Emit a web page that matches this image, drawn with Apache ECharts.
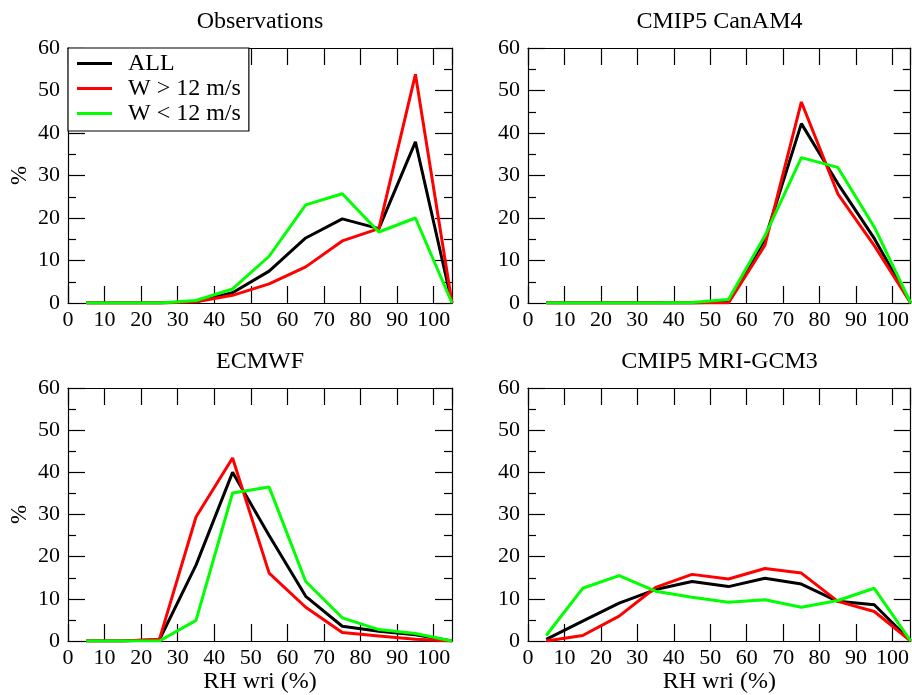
<!DOCTYPE html>
<html>
<head>
<meta charset="utf-8">
<script src="https://cdn.jsdelivr.net/npm/echarts@6/dist/echarts.min.js"></script>
<style>html,body{margin:0;padding:0;background:#fff}#c{width:912px;height:695px}</style>
</head>
<body>
<div id="c"></div>
<script>
const rhBins = [5,15,25,35,45,55,65,75,85,95,105];
const xTickLabels = [0,10,20,30,40,50,60,70,80,90,100];
const yTickLabels = [0,10,20,30,40,50,60];
const seriesNames = ['ALL','W > 12 m/s','W < 12 m/s'];
const panelTitles = ['Observations','CMIP5 CanAM4','ECMWF','CMIP5 MRI-GCM3'];

const obsAll  = [0,0,0,0.3,2.4,7.5,15.3,19.8,17.5,37.9,0];
const obsHigh = [0,0,0,0.3,1.8,4.5,8.5,14.6,17.5,53.8,0];
const obsLow  = [0,0,0,0.6,3.3,11,23.1,25.7,16.7,20,0];

const canAll  = [0,0,0,0,0,0.3,15,42.2,28.1,15.2,0];
const canHigh = [0,0,0,0,0,0,13.6,47.3,25.7,13.5,0];
const canLow  = [0,0,0,0,0.1,0.8,15.8,34.2,31.9,17.9,0];

const ecAll  = [0,0,0.3,18,40,25,10.6,3.5,2.3,1.5,0];
const ecHigh = [0,0,0.4,29.4,43.4,16.1,8,2,1.2,0.4,0];
const ecLow  = [0,0,0,4.9,35.1,36.5,14.1,5.5,2.7,1.8,0];

const mriAll  = [0.4,4.7,9,12.2,14.1,12.9,14.9,13.5,9.4,8.6,0];
const mriHigh = [0,1.3,5.9,12.7,15.8,14.7,17.2,16.1,9.4,7,0];
const mriLow  = [1.3,12.5,15.5,11.8,10.4,9.2,9.8,8,9.6,12.5,0];

const panels = [
  [obsAll, obsHigh, obsLow],
  [canAll, canHigh, canLow],
  [ecAll, ecHigh, ecLow],
  [mriAll, mriHigh, mriLow]
];
const colors = ['#000000','#ff0000','#00ff00'];
const FONT = "'Liberation Serif','DejaVu Serif',serif";

const grids = [
  {left:68, top:48, width:384, height:255},
  {left:528, top:48, width:383, height:255},
  {left:68, top:388, width:384, height:256},
  {left:528, top:388, width:383, height:256}
];

const xMin = 0, xMax = 105, xInt = xTickLabels[1]-xTickLabels[0];
const yMin = yTickLabels[0], yMax = yTickLabels[yTickLabels.length-1], yInt = yTickLabels[1]-yTickLabels[0];

const xAxes = [], yAxes = [], series = [], titles = [];
const lineAx = {show:true, onZero:false, lineStyle:{color:'#000', width:1.2}};
grids.forEach((g, i) => {
  const bottomRow = i >= 2, leftCol = (i % 2) === 0;
  xAxes.push({
    type:'value', gridIndex:i, min:xMin, max:xMax, interval:xInt, position:'bottom',
    axisLine:lineAx,
    axisTick:{show:true, inside:true, length:17, lineStyle:{color:'#000', width:1.2}},
    axisLabel:{show:true, color:'#000', fontFamily:FONT, fontSize:22, margin:6, showMaxLabel:false,
      formatter: v => xTickLabels.indexOf(v) >= 0 ? String(v) : ''},
    splitLine:{show:false},
    name: bottomRow ? 'RH wri (%)' : '', nameLocation:'middle', nameGap:29,
    nameTextStyle:{color:'#000', fontFamily:FONT, fontSize:24}
  });
  xAxes.push({
    type:'value', gridIndex:i, min:xMin, max:xMax, interval:xInt, position:'top',
    axisLine:lineAx,
    axisTick:{show:true, inside:true, length:17, lineStyle:{color:'#000', width:1.2}},
    axisLabel:{show:false}, splitLine:{show:false}
  });
  yAxes.push({
    type:'value', gridIndex:i, min:yMin, max:yMax, interval:yInt, position:'left',
    axisLine:lineAx,
    axisTick:{show:true, inside:true, length:17, lineStyle:{color:'#000', width:1.2}},
    minorTick:{show:true, splitNumber:2, length:8, lineStyle:{color:'#000', width:1.2}},
    axisLabel:{show:true, color:'#000', fontFamily:FONT, fontSize:22, margin:8},
    splitLine:{show:false}, minorSplitLine:{show:false},
    name: leftCol ? '%' : '', nameLocation:'middle', nameGap:37,
    nameTextStyle:{color:'#000', fontFamily:FONT, fontSize:23}
  });
  yAxes.push({
    type:'value', gridIndex:i, min:yMin, max:yMax, interval:yInt, position:'right',
    axisLine:lineAx,
    axisTick:{show:true, inside:true, length:17, lineStyle:{color:'#000', width:1.2}},
    minorTick:{show:true, splitNumber:2, length:8, lineStyle:{color:'#000', width:1.2}},
    axisLabel:{show:false}, splitLine:{show:false}, minorSplitLine:{show:false}
  });
  titles.push({
    text: panelTitles[i], left: g.left + g.width/2, top: bottomRow ? 350 : 10,
    textAlign:'center', padding:0,
    textStyle:{color:'#000', fontFamily:FONT, fontSize:24, fontWeight:'normal'}
  });
  panels[i].forEach((vals, k) => {
    series.push({
      type:'line', name: seriesNames[k], xAxisIndex: i*2, yAxisIndex: i*2,
      data: rhBins.map((x, j) => [x, vals[j]]),
      symbol:'none', showSymbol:false, lineStyle:{color:colors[k], width:3}, itemStyle:{color:colors[k]},
      silent:true, animation:false, z: 2 + k
    });
  });
});

const chart = echarts.init(document.getElementById('c'), null, {renderer:'canvas'});
chart.setOption({
  backgroundColor:'#fff',
  animation:false,
  title: titles,
  grid: grids,
  xAxis: xAxes,
  yAxis: yAxes,
  legend: {
    data: seriesNames.map(n => ({name:n, icon:'rect'})), orient:'vertical', left:68, top:48,
    backgroundColor:'#fff', borderColor:'#000', borderWidth:1.2,
    padding:[3,8,5,9], itemWidth:35, itemHeight:3, itemGap:0,
    textStyle:{color:'#000', fontFamily:FONT, fontSize:24, lineHeight:25, padding:[0,0,0,11]},
    selectedMode:false, z:10
  },
  series: series
});
</script>
</body>
</html>
